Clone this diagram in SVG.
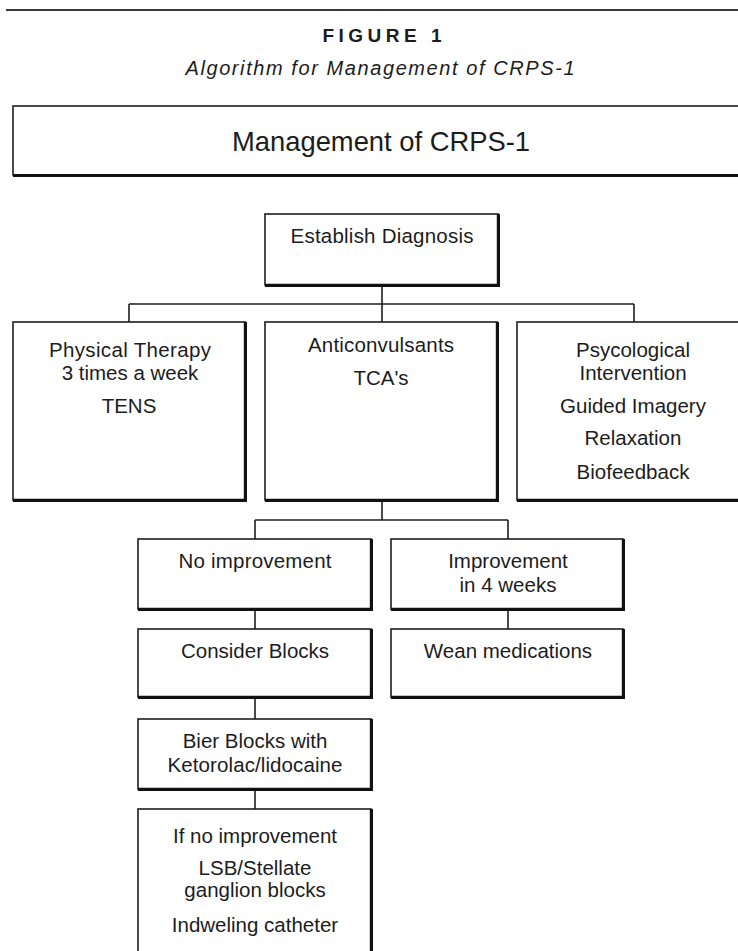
<svg xmlns="http://www.w3.org/2000/svg" width="738" height="951" viewBox="0 0 738 951">
<style>
.bx{fill:#fff;stroke:#1e1e1e;stroke-width:1.6}
.sh{fill:none;stroke:#111;stroke-width:3.2}
.cn{fill:none;stroke:#1e1e1e;stroke-width:1.6}
text{font-family:"Liberation Sans",Arial,sans-serif;fill:#1c1c1c;text-anchor:middle}
.t{font-size:20.5px}
</style>
<rect x="0" y="0" width="738" height="951" fill="#fff"/>
<line x1="6" y1="10" x2="738" y2="10" stroke="#3a3a3a" stroke-width="2.2"/>
<text x="382" y="42" style="font-size:19px;font-weight:bold" textLength="119">FIGURE 1</text>
<text x="380" y="75" style="font-size:20px;font-style:italic" textLength="389">Algorithm for Management of CRPS-1</text>

<g id="header">
<rect class="bx" x="13" y="106" width="740" height="69"/>
<path class="sh" d="M13,175.5 H740"/>
<text x="381" y="151" style="font-size:28.5px" textLength="298" lengthAdjust="spacingAndGlyphs">Management of CRPS-1</text>
</g>

<g id="connectors">
<path class="cn" d="M382,287 V322 M129,304 H634 M129,304 V322 M634,304 V322"/>
<path class="cn" d="M382,502 V520 M255,520 H508 M255,520 V539 M508,520 V539"/>
<path class="cn" d="M255,611 V629 M508,611 V629 M255,699 V719 M255,791 V809"/>
</g>

<g id="establish">
<rect class="bx" x="265" y="214" width="233" height="71"/>
<path class="sh" d="M498.4,214 V285.4 H265"/>
<text class="t" x="382" y="243" textLength="183">Establish Diagnosis</text>
</g>

<g id="physical">
<rect class="bx" x="13" y="322" width="232" height="178"/>
<path class="sh" d="M245.4,322 V500.4 H13"/>
<text class="t" x="130" y="357" textLength="162">Physical Therapy</text>
<text class="t" x="130" y="380">3 times a week</text>
<text class="t" x="129" y="413">TENS</text>
</g>

<g id="anticonvulsants">
<rect class="bx" x="265" y="322" width="232" height="178"/>
<path class="sh" d="M497.4,322 V500.4 H265"/>
<text class="t" x="381" y="352" textLength="146">Anticonvulsants</text>
<text class="t" x="381" y="385">TCA's</text>
</g>

<g id="psychological">
<rect class="bx" x="517" y="322" width="240" height="178"/>
<path class="sh" d="M517,500.4 H740"/>
<text class="t" x="633" y="357">Psycological</text>
<text class="t" x="633" y="380">Intervention</text>
<text class="t" x="633" y="413">Guided Imagery</text>
<text class="t" x="633" y="445">Relaxation</text>
<text class="t" x="633" y="479">Biofeedback</text>
</g>

<g id="no-improvement">
<rect class="bx" x="138" y="539" width="233" height="70"/>
<path class="sh" d="M371.4,539 V609.4 H138"/>
<text class="t" x="255" y="568" textLength="153">No improvement</text>
</g>

<g id="improvement">
<rect class="bx" x="391" y="539" width="232" height="70"/>
<path class="sh" d="M623.4,539 V609.4 H391"/>
<text class="t" x="508" y="568">Improvement</text>
<text class="t" x="508" y="592">in 4 weeks</text>
</g>

<g id="consider-blocks">
<rect class="bx" x="138" y="629" width="233" height="68"/>
<path class="sh" d="M371.4,629 V697.4 H138"/>
<text class="t" x="255" y="658">Consider Blocks</text>
</g>

<g id="wean">
<rect class="bx" x="391" y="629" width="232" height="68"/>
<path class="sh" d="M623.4,629 V697.4 H391"/>
<text class="t" x="508" y="658">Wean medications</text>
</g>

<g id="bier-blocks">
<rect class="bx" x="138" y="719" width="233" height="70"/>
<path class="sh" d="M371.4,719 V789.4 H138"/>
<text class="t" x="255" y="748">Bier Blocks with</text>
<text class="t" x="255" y="772" textLength="175">Ketorolac/lidocaine</text>
</g>

<g id="if-no-improvement">
<rect class="bx" x="138" y="809" width="233" height="160"/>
<path class="sh" d="M371.4,809 V960"/>
<text class="t" x="255" y="843">If no improvement</text>
<text class="t" x="255" y="875">LSB/Stellate</text>
<text class="t" x="255" y="897">ganglion blocks</text>
<text class="t" x="255" y="932">Indweling catheter</text>
</g>
</svg>
